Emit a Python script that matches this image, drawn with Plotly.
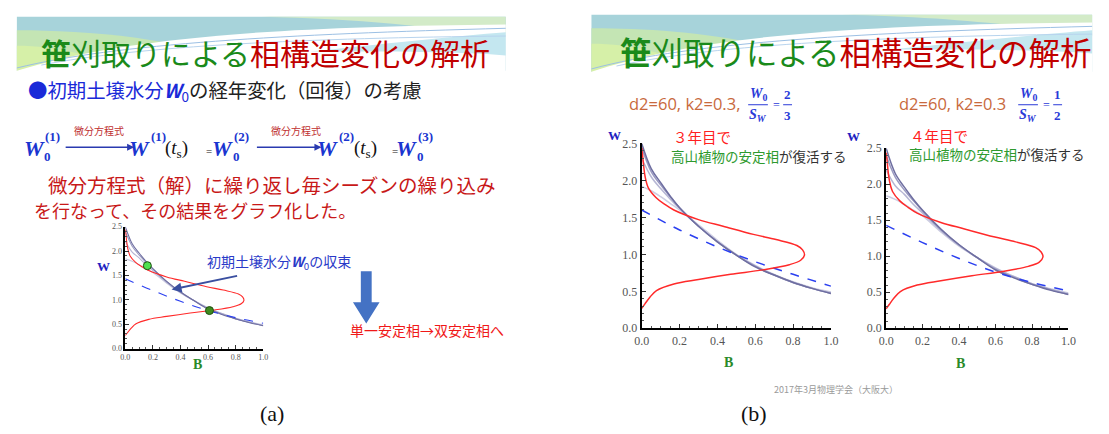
import plotly.graph_objects as go

WPX, HPX = 1109, 434

# ---------------- data ----------------
b_ticks = [0.0, 0.2, 0.4, 0.6, 0.8, 1.0]
w_ticks = [0.0, 0.5, 1.0, 1.5, 2.0, 2.5]

# red nullcline: B as a function of W
red_w = [0.27, 0.33, 0.42, 0.51, 0.60, 0.66, 0.73, 0.79, 0.86, 0.92, 0.99, 1.06,
         1.12, 1.20, 1.27, 1.38, 1.47, 1.60, 1.68, 1.77, 1.90, 2.05, 2.20, 2.33, 2.44]
red_b = [0.0, 0.017, 0.043, 0.078, 0.17, 0.30, 0.47, 0.64, 0.78, 0.84, 0.86, 0.85,
         0.82, 0.71, 0.59, 0.43, 0.30, 0.17, 0.12, 0.075, 0.035, 0.018, 0.01, 0.005, 0.0]

b_grid = [0.0, 0.05, 0.1, 0.15, 0.2, 0.3, 0.4, 0.5, 0.6, 0.7, 0.8, 0.9, 1.0]

# panel (b) left: W0 = 2/3 Sw, yearly W curves (light -> dark)
b1_y1 = [1.92, 1.86, 1.78, 1.69, 1.60, 1.40, 1.19, 1.00, 0.85, 0.73, 0.63, 0.55, 0.49]
b1_y2 = [2.30, 2.05, 1.89, 1.75, 1.62, 1.38, 1.17, 0.99, 0.84, 0.72, 0.62, 0.54, 0.48]
b1_y3 = [2.45, 2.12, 1.94, 1.78, 1.63, 1.38, 1.17, 0.99, 0.84, 0.72, 0.62, 0.54, 0.47]
b1_y4 = [2.50, 2.16, 1.97, 1.79, 1.63, 1.38, 1.17, 0.99, 0.83, 0.72, 0.62, 0.54, 0.47]
b1_dash_b = [0.0, 0.2, 0.4, 0.6, 0.8, 1.0]
b1_dash_w = [1.60, 1.33, 1.10, 0.90, 0.73, 0.57]

# panel (b) right: W0 = 1/2 Sw
b2_y1 = [1.84, 1.79, 1.72, 1.64, 1.56, 1.34, 1.14, 0.98, 0.84, 0.72, 0.62, 0.55, 0.49]
b2_y2 = [2.20, 1.98, 1.86, 1.72, 1.60, 1.36, 1.15, 0.98, 0.83, 0.72, 0.62, 0.54, 0.48]
b2_y3 = [2.40, 2.10, 1.92, 1.77, 1.63, 1.37, 1.16, 0.98, 0.82, 0.71, 0.61, 0.54, 0.47]
b2_y4 = [2.50, 2.15, 1.96, 1.79, 1.64, 1.38, 1.16, 0.98, 0.81, 0.70, 0.61, 0.53, 0.47]
b2_dash_b = [0.0, 0.2, 0.4, 0.6, 0.8, 1.0]
b2_dash_w = [1.43, 1.19, 0.97, 0.78, 0.635, 0.52]

# panel (a): the two stable points
pt_b = [0.16, 0.61]
pt_w = [1.70, 0.78]

# ---------------- helpers ----------------
SANS = "Noto Sans CJK JP"
SERIF = "Liberation Serif"


def px(x):
    return x / WPX


def py(y):
    return 1 - y / HPX


fig = go.Figure()
annotations = []
shapes = []


def ann(x, y, text, size, color, family=SANS, xanchor="left", yanchor="middle"):
    annotations.append(dict(x=px(x), y=py(y), xref="paper", yref="paper", text=text,
                            showarrow=False, xanchor=xanchor, yanchor=yanchor, borderpad=0,
                            font=dict(size=size, color=color, family=family)))


def path(d_pts, fill=None, line_color=None, line_width=0, opacity=1.0):
    shapes.append(dict(type="path", xref="paper", yref="paper", path=d_pts,
                       fillcolor=fill if fill else "rgba(0,0,0,0)",
                       line=dict(color=line_color if line_color else "rgba(0,0,0,0)",
                                 width=line_width),
                       opacity=opacity, layer="below"))


def P(x, y):
    return f"{px(x):.5f},{py(y):.5f}"


def header(x0, x1, y0, y1):
    w = x1 - x0
    path(f"M {P(x0,y0)} L {P(x1,y0)} L {P(x1,y1)} L {P(x0,y1)} Z", fill="#a7d3da")
    path(f"M {P(x0,y0+14)} C {P(x0+0.15*w,y0+14)} {P(x0+0.35*w,y0+22)} {P(x0+0.5*w,y1)} L {P(x0,y1)} Z",
         fill="#c4e5b4")
    path(f"M {P(x0,y0+30)} C {P(x0+0.08*w,y0+30)} {P(x0+0.16*w,y0+40)} {P(x0+0.22*w,y1)} L {P(x0,y1)} Z",
         fill="#d6f0a8")
    path(f"M {P(x0+0.5*w,y0)} L {P(x1,y0)} L {P(x1,y0+22)} C {P(x0+0.85*w,y0+10)} {P(x0+0.7*w,y0+2)} {P(x0+0.5*w,y0)} Z",
         fill="#d3ebc8")
    path(f"M {P(x0,y1)} C {P(x0+0.2*w,y0+24)} {P(x0+0.5*w,y0+10)} {P(x1,y0+8)} L {P(x1,y1+2)} L {P(x0,y1+2)} Z",
         fill="white")
    path(f"M {P(x0+0.6*w,y0+36)} C {P(x0+0.75*w,y0+28)} {P(x0+0.9*w,y0+20)} {P(x1,y0+16)} L {P(x1,y0+40)} "
         f"C {P(x0+0.9*w,y0+36)} {P(x0+0.78*w,y0+36)} {P(x0+0.6*w,y0+36)} Z", fill="#c4e7f0")
    path(f"M {P(x0,y1-3)} C {P(x0+0.2*w,y0+28)} {P(x0+0.55*w,y0+18)} {P(x1,y0+12)}",
         line_color="#9cc0e4", line_width=1)
    path(f"M {P(x0+0.05*w,y1-6)} C {P(x0+0.25*w,y0+30)} {P(x0+0.6*w,y0+22)} {P(x1,y0+20)}",
         line_color="#b8d4ee", line_width=1)


header(9, 505, 10, 66)
header(592, 1100, 8, 67)

# ---------------- chart traces ----------------
gray_cols = ["#cdcde2", "#b6b6d4", "#9a9ac2", "#6e6ea0"]


def add_panel(xa, ya, years, dash_b, dash_w, lw=1.5):
    for ys, col in zip(years, gray_cols):
        fig.add_trace(go.Scatter(x=b_grid, y=ys, mode="lines", line=dict(color=col, width=lw, shape="spline"),
                                 xaxis=xa, yaxis=ya, showlegend=False, hoverinfo="skip"))
    fig.add_trace(go.Scatter(x=dash_b, y=dash_w, mode="lines",
                             line=dict(color="#2a3ff0", width=lw, dash="dash", shape="spline"),
                             xaxis=xa, yaxis=ya, showlegend=False, hoverinfo="skip"))
    fig.add_trace(go.Scatter(x=red_b, y=red_w, mode="lines", line=dict(color="#ff2a2a", width=lw, shape="spline"),
                             xaxis=xa, yaxis=ya, showlegend=False, hoverinfo="skip"))


add_panel("x", "y", [b2_y1, b2_y2, b2_y3, b2_y4], b2_dash_b, b2_dash_w, lw=1.1)
fig.add_trace(go.Scatter(x=pt_b, y=pt_w, mode="markers",
                         marker=dict(size=8, color=["#4fe04f", "#3f8a1f"], line=dict(color="#1f4f10", width=1)),
                         xaxis="x", yaxis="y", showlegend=False, hoverinfo="skip"))
add_panel("x2", "y2", [b1_y1, b1_y2, b1_y3, b1_y4], b1_dash_b, b1_dash_w)
add_panel("x3", "y3", [b2_y1, b2_y2, b2_y3, b2_y4], b2_dash_b, b2_dash_w)


def axis_pair(x0, x1, ytop, ybot, fs, lw):
    xa = dict(domain=[px(x0), px(x1)], range=[0, 1], tickvals=b_ticks, tickformat=".1f",
              showline=True, linecolor="black", linewidth=lw, ticks="inside", ticklen=4, tickcolor="#333",
              minor=dict(ticks="inside", ticklen=2, dtick=0.05, tickcolor="#555"),
              showgrid=False, zeroline=False, tickfont=dict(family=SERIF, size=fs, color="#555"), fixedrange=True)
    ya = dict(domain=[py(ybot), py(ytop)], range=[0, 2.5], tickvals=w_ticks, tickformat=".1f",
              showline=True, linecolor="black", linewidth=lw, ticks="inside", ticklen=4, tickcolor="#333",
              minor=dict(ticks="inside", ticklen=2, dtick=0.1, tickcolor="#555"),
              showgrid=False, zeroline=False, tickfont=dict(family=SERIF, size=fs, color="#555"), fixedrange=True)
    return xa, ya


xa1, ya1 = axis_pair(119, 259, 227, 353, 8, 1.5)
xa2, ya2 = axis_pair(643, 835, 141, 332, 12, 2)
xa3, ya3 = axis_pair(891, 1076, 146, 332, 12, 2)
ya1["anchor"] = "x"; xa1["anchor"] = "y"
xa2["anchor"] = "y2"; ya2["anchor"] = "x2"
xa3["anchor"] = "y3"; ya3["anchor"] = "x3"

# ---------------- texts: slide (a) ----------------
GREEN_T = "#1a8a1a"
RED_T = "#c00000"
ann(32, 46, f"<span style='color:{GREEN_T}'><b>笹</b>刈取りによる</span><span style='color:{RED_T}'>相構造変化の解析</span>",
    30, GREEN_T)
ann(19, 86, "<span style='color:#1a2ad8'>●初期土壌水分<b><i>W</i></b><sub>0</sub></span>の経年変化（回復）の考慮",
    19.4, "#222")

WBLUE = "#1a35d0"
ann(92, 128, "微分方程式", 10, "#c03030", xanchor="center")
ann(292, 128, "微分方程式", 10, "#c03030", xanchor="center")


def wterm(x, sup, sub):
    ann(x, 146, "<b><i>W</i></b>", 22, WBLUE, family=SERIF)
    ann(x + 22, 134, f"<b>{sup}</b>", 13, WBLUE, family=SERIF)
    if sub:
        ann(x + 21, 154, "<b>0</b>", 13, WBLUE, family=SERIF)


wterm(15, "(1)", True)
wterm(122, "(1)", False)
ann(158, 147, "(<i>t</i><sub>s</sub>)", 19, "#111", family=SERIF)
ann(200, 149, "=", 11, "#111", family=SERIF)
wterm(206, "(2)", True)
wterm(313, "(2)", False)
ann(350, 147, "(<i>t</i><sub>s</sub>)", 19, "#111", family=SERIF)
ann(389, 149, "=", 11, "#111", family=SERIF)
wterm(393, "(3)", True)

for xs, xe in [(58, 128), (252, 318)]:
    annotations.append(dict(x=px(xe), y=py(145), xref="paper", yref="paper", ax=xs - xe, ay=0,
                            axref="pixel", ayref="pixel", text="", showarrow=True,
                            arrowhead=2, arrowsize=1, arrowwidth=1.4, arrowcolor="#2a3ab0"))

RED_B = "#c81818"
ann(40, 183, "微分方程式（解）に繰り返し毎シーズンの繰り込み", 19.5, RED_B)
ann(25, 210, "を行なって、その結果をグラフ化した。", 18, RED_B)

ann(97, 268, "<b>W</b>", 13, "#2020c0", family=SERIF, xanchor="center")
ann(192, 369, "<b>B</b>", 14, "#2a8a2a", family=SERIF, xanchor="center")
ann(201, 263, "初期土壌水分<b><i>W</i></b><sub>0</sub>の収束", 14, "#2a3ac8")
annotations.append(dict(x=px(166), y=py(292), xref="paper", yref="paper", ax=233 - 166, ay=278 - 292,
                        axref="pixel", ayref="pixel", text="", showarrow=True,
                        arrowhead=2, arrowsize=1, arrowwidth=2, arrowcolor="#3a4fa0"))
path(f"M {P(358,273)} L {P(369,273)} L {P(369,305)} L {P(377,305)} L {P(363.5,327)} L {P(350,305)} L {P(358,305)} Z",
     fill="#4472c4")
ann(346, 334, "単一安定相→双安定相へ", 14, "#f01818")

# ---------------- texts: slide (b) ----------------
ann(620, 45, f"<span style='color:{GREEN_T}'><b>笹</b>刈取りによる</span><span style='color:{RED_T}'>相構造変化の解析</span>",
    31.5, GREEN_T)
ORG = "#c8693c"
FRB = "#2a3ad8"

ann(629, 100, "d2=60, k2=0.3,", 16.5, ORG, family="Open Sans")
ann(903, 100, "d2=60, k2=0.3", 16.5, ORG, family="Open Sans")


def frac(xc, y, top, bot, size, color, wbar):
    ann(xc, y - 10, top, size, color, family=SERIF, xanchor="center")
    ann(xc, y + 12, bot, size, color, family=SERIF, xanchor="center")
    shapes.append(dict(type="line", xref="paper", yref="paper", x0=px(xc - wbar / 2), x1=px(xc + wbar / 2),
                       y0=py(y + 1), y1=py(y + 1), line=dict(color=color, width=1)))


frac(761, 100, "<b><i>W</i><sub>0</sub></b>", "<b><i>S<sub>W</sub></i></b>", 14, FRB, 20)
ann(775, 101, "=", 12, FRB, family=SERIF)
frac(791, 100, "<b>2</b>", "<b>3</b>", 13, FRB, 9)
frac(1035, 100, "<b><i>W</i><sub>0</sub></b>", "<b><i>S<sub>W</sub></i></b>", 14, FRB, 20)
ann(1049, 101, "=", 12, FRB, family=SERIF)
frac(1065, 100, "<b>1</b>", "<b>2</b>", 13, FRB, 9)

GR2 = "#2e9a2e"
ann(674, 134, "３年目で", 14.5, "#ff2020")
ann(672, 154, f"<span style='color:{GR2}'>高山植物の安定相</span>が復活する", 13.5, "#333")
ann(914, 133, "４年目で", 14.5, "#ff2020")
ann(913, 152, f"<span style='color:{GR2}'>高山植物の安定相</span>が復活する", 13.5, "#333")

ann(615, 133, "<b>W</b>", 13, "#2020c0", family=SERIF, xanchor="center")
ann(731, 367, "<b>B</b>", 14, "#2a8a2a", family=SERIF, xanchor="center")
ann(858, 134, "<b>W</b>", 13, "#2020c0", family=SERIF, xanchor="center")
ann(966, 368, "<b>B</b>", 14, "#2a8a2a", family=SERIF, xanchor="center")

ann(840, 395, "2017年3月物理学会（大阪大）", 9, "#9a9a9a", xanchor="center")

ann(268, 420, "(a)", 22, "#111", family=SERIF, xanchor="center")
ann(757, 420, "(b)", 22, "#111", family=SERIF, xanchor="center")

fig.update_layout(
    width=WPX, height=HPX, margin=dict(l=0, r=0, t=0, b=0),
    paper_bgcolor="white", plot_bgcolor="rgba(0,0,0,0)",
    xaxis=xa1, yaxis=ya1, xaxis2=xa2, yaxis2=ya2, xaxis3=xa3, yaxis3=ya3,
    annotations=annotations, shapes=shapes, showlegend=False,
)

fig.write_html("out.html", config={"displayModeBar": False},
               post_script="document.body.style.margin='0';document.body.style.overflow='hidden';")
